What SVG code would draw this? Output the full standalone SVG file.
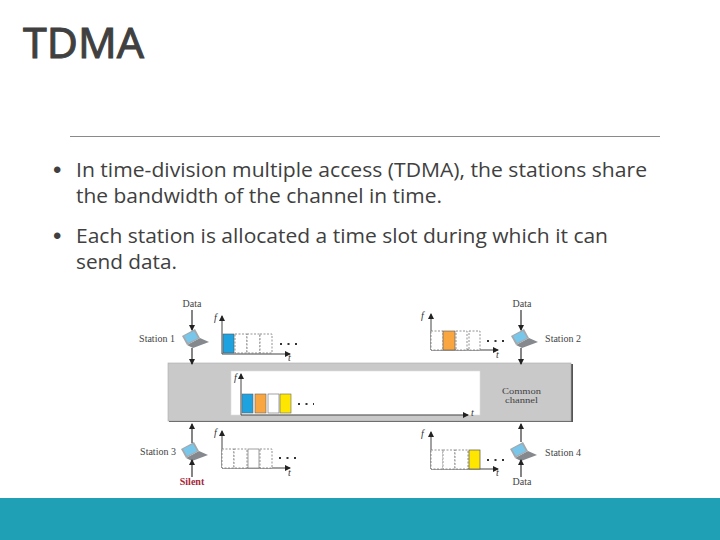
<svg xmlns="http://www.w3.org/2000/svg" width="720" height="540" viewBox="0 0 720 540">
<defs>
<marker id="a" markerWidth="7" markerHeight="7" refX="5" refY="3" orient="auto" markerUnits="userSpaceOnUse"><path d="M0 0L6 3L0 6Z" fill="#222"/></marker>
<g id="laptop">
<path d="M-8 6L5 -1L14 3L-2 9Z" fill="#85898e"/>
<path d="M-13 -3L0 -10L5 -1L-8 6Z" fill="#a4a8ac"/>
<path d="M-11 -3L-1 -8L3 -1L-7 4Z" fill="#78c6ea"/>
</g>
</defs>
<style>
.b{font-family:"Open Sans","Noto Sans",sans-serif;font-size:20.500px;fill:#404040}
.u{font-family:"Liberation Sans",sans-serif;font-size:24px;fill:#404040}
.s{font-family:"Liberation Serif",serif;font-size:10px;fill:#444}
.c{font-family:"Liberation Serif",serif;font-size:8px;fill:#444}
.i{font-family:"Liberation Serif",serif;font-size:10px;font-style:italic;fill:#333}
.ax{stroke:#444;stroke-width:1;fill:none;marker-end:url(#a)}
.w{stroke:#333;stroke-width:1.200;fill:none;marker-end:url(#a)}
.d{fill:#fff;stroke:#777;stroke-width:.8;stroke-dasharray:2 1.500}
.e{fill:none;stroke:#333;stroke-width:2;stroke-dasharray:2 5.500}
</style>
<rect width="720" height="540" fill="#fff"/>
<text x="23" y="58" font-family="'Noto Sans','Open Sans',sans-serif" font-size="41" fill="#404040" stroke="#404040" stroke-width=".9" textLength="121" lengthAdjust="spacingAndGlyphs">TDMA</text>
<line x1="70" y1="136.500" x2="660" y2="136.500" stroke="#8a8a8a" stroke-width="1"/>
<g id="bullets">
<text class="u" x="53" y="178">•</text><text class="b" x="76" y="177" textLength="571" lengthAdjust="spacingAndGlyphs">In time-division multiple access (TDMA), the stations share</text>
<text class="b" x="76" y="203" textLength="366" lengthAdjust="spacingAndGlyphs">the bandwidth of the channel in time.</text>
<text class="u" x="53" y="244">•</text><text class="b" x="76" y="243" textLength="532" lengthAdjust="spacingAndGlyphs">Each station is allocated a time slot during which it can</text>
<text class="b" x="76" y="269" textLength="101" lengthAdjust="spacingAndGlyphs">send data.</text>
</g>
<g id="common-channel">
<rect x="169" y="364" width="404" height="58" fill="#555"/>
<rect x="168" y="363" width="403" height="58" fill="#c9c9ca" stroke="#aaa" stroke-width=".6"/>
<rect x="231" y="371" width="249" height="44" fill="#fff" stroke="#ddd" stroke-width=".6"/>
<text class="c" x="502" y="394" textLength="39" lengthAdjust="spacingAndGlyphs">Common</text>
<text class="c" x="505" y="403" textLength="33" lengthAdjust="spacingAndGlyphs">channel</text>
<path class="ax" d="M241 415V374"/><path class="ax" d="M241 415H468"/>
<text class="i" x="234" y="381">f</text><text class="i" x="471" y="416">t</text>
<rect x="242" y="394" width="11" height="19" fill="#1ea3e0" stroke="#666" stroke-width=".6"/>
<rect x="255" y="394" width="11" height="19" fill="#f9a540" stroke="#666" stroke-width=".6"/>
<rect x="268" y="394" width="11" height="19" fill="#fff" stroke="#666" stroke-width=".6"/>
<rect x="280" y="394" width="11" height="19" fill="#ffe600" stroke="#666" stroke-width=".6"/>
<path class="e" d="M298 404H314"/>
</g>
<g id="station-1">
<text class="s" x="157" y="342" text-anchor="middle">Station 1</text>
<text class="s" x="192" y="307" text-anchor="middle">Data</text>
<use href="#laptop" x="195" y="339"/>
<path class="w" d="M192 310V330"/><path class="w" d="M192 348V364"/>
<path class="ax" d="M222 354V316"/><path class="ax" d="M222 354H290"/>
<text class="i" x="214" y="321">f</text><text class="i" x="288" y="361">t</text>
<rect x="223" y="334" width="11" height="19" fill="#1ea3e0" stroke="#555" stroke-width=".6"/>
<rect class="d" x="235" y="334" width="12" height="19"/><rect class="d" x="247" y="334" width="13" height="19"/><rect class="d" x="260" y="334" width="12" height="19"/>
<path class="e" d="M280 344H298"/>
</g>
<g id="station-2">
<text class="s" x="563" y="342" text-anchor="middle">Station 2</text>
<text class="s" x="522" y="307" text-anchor="middle">Data</text>
<use href="#laptop" x="524" y="339"/>
<path class="w" d="M521 310V330"/><path class="w" d="M521 348V364"/>
<path class="ax" d="M431 350V314"/><path class="ax" d="M431 350H498"/>
<text class="i" x="421" y="319">f</text><text class="i" x="496" y="358">t</text>
<rect class="d" x="431" y="331" width="12" height="19"/><rect x="443" y="331" width="12" height="19" fill="#f9a540" stroke="#555" stroke-width=".6"/><rect class="d" x="456" y="331" width="11" height="19"/><rect class="d" x="469" y="331" width="11" height="19"/>
<path class="e" d="M487 341H505"/>
</g>
<g id="station-3">
<text class="s" x="158" y="455" text-anchor="middle">Station 3</text>
<text x="192" y="485" text-anchor="middle" font-family="'Liberation Serif',serif" font-size="10" font-weight="700" fill="#a5283a">Silent</text>
<use href="#laptop" x="194" y="452"/>
<path class="w" d="M192 477V460"/><path class="w" d="M192 443V424"/>
<path class="ax" d="M222 468V431"/><path class="ax" d="M222 468H290"/>
<text class="i" x="214" y="436">f</text><text class="i" x="288" y="476">t</text>
<rect class="d" x="222" y="449" width="12" height="19"/><rect class="d" x="234" y="449" width="13" height="19"/><rect x="248" y="449" width="11" height="19" fill="#fff" stroke="#777" stroke-width=".7"/><rect class="d" x="260" y="449" width="12" height="19"/>
<path class="e" d="M279 458H296"/>
</g>
<g id="station-4">
<text class="s" x="563" y="456" text-anchor="middle">Station 4</text>
<text class="s" x="522" y="485" text-anchor="middle">Data</text>
<use href="#laptop" x="523" y="452"/>
<path class="w" d="M521 477V460"/><path class="w" d="M521 442V424"/>
<path class="ax" d="M431 469V432"/><path class="ax" d="M431 469H498"/>
<text class="i" x="421" y="437">f</text><text class="i" x="496" y="476">t</text>
<rect class="d" x="431" y="450" width="12" height="19"/><rect class="d" x="443" y="450" width="12" height="19"/><rect class="d" x="455" y="450" width="13" height="19"/><rect x="469" y="450" width="11" height="19" fill="#ffe600" stroke="#555" stroke-width=".7"/>
<path class="e" d="M487 460H505"/>
</g>
<rect x="0" y="498" width="720" height="42" fill="#20a0b4"/>
</svg>
